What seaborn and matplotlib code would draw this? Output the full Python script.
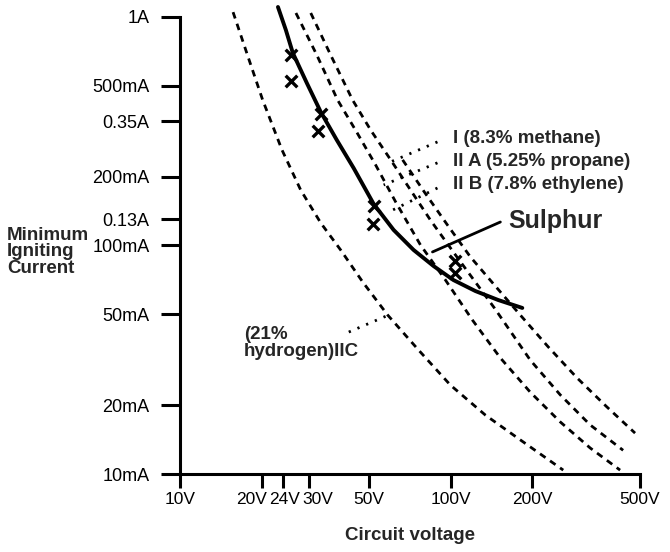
import matplotlib
matplotlib.use("Agg")
import matplotlib.pyplot as plt
import matplotlib.transforms as mtrans
import seaborn as sns

# ---- data (volts, amps) ----
h2_v = [15.7, 18.0, 20.2, 23.8, 27.9, 33.1, 39.2, 47.3, 58.5, 76.0, 99.7, 134.3, 180.7, 260.3]
h2_i = [1.05, 0.648, 0.433, 0.262, 0.175, 0.1255, 0.0956, 0.0692, 0.0496, 0.0349, 0.0245, 0.0181, 0.0141, 0.0104]

iib_v = [26.8, 32.0, 38.2, 44.9, 52.8, 62.6, 77.3, 95.6, 120.2, 152.5, 196.7, 253.8, 327.3, 422.2]
iib_i = [1.041, 0.682, 0.433, 0.314, 0.225, 0.155, 0.1005, 0.0706, 0.0472, 0.0322, 0.0228, 0.0169, 0.0130, 0.0104]

iia_v = [30.4, 36.0, 43.4, 50.6, 60.0, 71.0, 84.2, 104.1, 144.9, 196.7, 253.8, 327.3, 433.2]
iia_i = [1.041, 0.682, 0.433, 0.320, 0.237, 0.175, 0.129, 0.0909, 0.0533, 0.0315, 0.0222, 0.0164, 0.0127]

ch4_v = [66.4, 80.0, 97.2, 118.2, 144.9, 180.7, 229.1, 293.1, 374.9, 479.5]
ch4_i = [0.237, 0.171, 0.123, 0.0891, 0.0672, 0.0496, 0.0360, 0.0263, 0.0198, 0.0151]

sulphur_v = [23.0, 24.6, 26.1, 29.4, 33.1, 37.9, 43.8, 51.9, 61.5, 72.9, 86.4, 102.3, 123.3, 149.9, 183.8]
sulphur_i = [1.106, 0.877, 0.696, 0.514, 0.384, 0.290, 0.218, 0.152, 0.117, 0.0956, 0.0813, 0.0706, 0.0632, 0.0577, 0.0533]

# measured test points (the X marks)
test_v = [25.6, 25.6, 33.1, 32.3, 51.9, 51.5, 104.1, 104.1]
test_i = [0.682, 0.525, 0.376, 0.317, 0.149, 0.124, 0.0855, 0.0758]

x_ticks = [10, 20, 24, 30, 50, 100, 200, 500]
x_labels = ["10V", "20V", "24V", "30V", "50V", "100V", "200V", "500V"]
y_ticks = [0.01, 0.02, 0.05, 0.1, 0.13, 0.2, 0.35, 0.5, 1]
y_labels = ["10mA", "20mA", "50mA", "100mA", "0.13A", "200mA", "0.35A", "500mA", "1A"]

# labels: text, anchor (V, A), pointer start, pointer end
gas_labels = ["I (8.3% methane)", "II A (5.25% propane)", "II B (7.8% ethylene)"]
gas_text_pos = [(101.5, 0.295), (101.5, 0.234), (101.5, 0.184)]
gas_ptr_from = [(89.3, 0.284), (89.3, 0.230), (89.3, 0.1785)]
gas_ptr_to = [(58.9, 0.230), (56.5, 0.184), (58.9, 0.140)]

sns.set_style("white")
plt.rcParams["font.family"] = ["Liberation Sans", "DejaVu Sans"]

fig = plt.figure(figsize=(6.7, 5.52), dpi=100)
ax = fig.add_axes([0.2687, 0.1413, 0.6865, 0.8483])
ax.set_xscale("log")
ax.set_yscale("log")

dash = (0, (2.4, 2.0))
for v, i in [(h2_v, h2_i), (iib_v, iib_i), (iia_v, iia_i), (ch4_v, ch4_i)]:
    sns.lineplot(x=v, y=i, ax=ax, color="black", lw=2.0, linestyle=dash,
                 sort=False, errorbar=None, clip_on=False)

sns.lineplot(x=sulphur_v, y=sulphur_i, ax=ax, color="black", lw=2.8,
             sort=False, errorbar=None, clip_on=False, solid_capstyle="round")
sns.scatterplot(x=test_v, y=test_i, ax=ax, marker="x", s=70, color="black",
                linewidth=2.4, zorder=5, clip_on=False)

ax.set_xlim(10, 500)
ax.set_ylim(0.01, 1.12)

ax.set_xticks(x_ticks)
ax.set_xticklabels(x_labels)
ax.set_yticks(y_ticks)
ax.set_yticklabels(y_labels)
ax.minorticks_off()
ax.tick_params(axis="both", direction="out", width=2.2, colors="black", labelsize=13,
               bottom=True, left=True)
ax.tick_params(axis="y", length=14, pad=8)
ax.tick_params(axis="x", length=10, pad=3, labelsize=12.5)

# spread the crowded 20V / 24V / 30V labels a little, as in the original
shifts = {"20V": -10, "24V": 2, "30V": 9}
for lab in ax.get_xticklabels():
    dx = shifts.get(lab.get_text(), 0)
    if dx:
        lab.set_transform(lab.get_transform() + mtrans.ScaledTranslation(dx / 100, 0, fig.dpi_scale_trans))

for side in ["top", "right"]:
    ax.spines[side].set_visible(False)
for side in ["left", "bottom"]:
    ax.spines[side].set_linewidth(2.2)
    ax.spines[side].set_color("black")
ax.spines["left"].set_bounds(0.01, 1)

# gas group labels with dotted pointers
for txt, pos, p0, p1 in zip(gas_labels, gas_text_pos, gas_ptr_from, gas_ptr_to):
    ax.text(pos[0], pos[1], txt, fontsize=13.5, fontweight="bold", ha="left", va="center")
    ax.plot([p0[0], p1[0]], [p0[1], p1[1]], color="black", lw=2, linestyle=(0, (0.8, 2.6)))

ax.text(17.2, 0.0374, "(21%\nhydrogen)IIC", fontsize=13.5, fontweight="bold",
        ha="left", va="center", linespacing=1.0)
ax.plot([42.0, 58.9], [0.0418, 0.0496], color="black", lw=2, linestyle=(0, (0.8, 2.6)))

ax.text(163.2, 0.128, "Sulphur", fontsize=18, fontweight="bold", ha="left", va="center")
ax.plot([152.5, 85.6], [0.1267, 0.0937], color="black", lw=2)

ax.set_xlabel("Circuit voltage", fontsize=13.5, fontweight="bold", labelpad=14)
fig.text(7 / 670, 1 - 252 / 552, "Minimum\nIgniting\nCurrent", fontsize=13.5,
         fontweight="bold", ha="left", va="center", linespacing=0.95)

fig.savefig("out.png", dpi=100)
